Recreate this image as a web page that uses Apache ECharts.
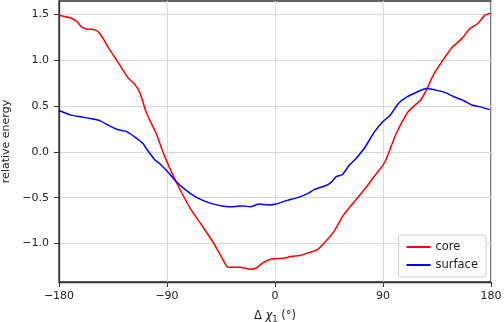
<!DOCTYPE html>
<html>
<head>
<meta charset="utf-8">
<script src="https://cdn.jsdelivr.net/npm/echarts@6/dist/echarts.min.js"></script>
<style>
  html, body { margin: 0; padding: 0; background: #fff; }
  #chart { width: 504px; height: 322px; }
</style>
</head>
<body>
<div id="chart"></div>
<script>
// core (red)
var coreX = [-180, -170, -165, -161, -157, -150, -146, -137.5, -129, -122, -117, -112.5, -107, -99, -94, -90, -83, -76, -69, -60, -51, -44, -39, -29, -20, -16, -10, -3, 7, 14, 21, 28, 35, 42, 49, 57, 65, 74, 82, 90, 93, 101, 110, 115, 121, 126, 132, 140, 147, 156, 162, 169, 175, 180];
var coreY = [1.49, 1.46, 1.42, 1.36, 1.34, 1.33, 1.29, 1.11, 0.94, 0.80, 0.74, 0.64, 0.42, 0.20, 0.02, -0.11, -0.31, -0.49, -0.65, -0.82, -1.00, -1.16, -1.26, -1.26, -1.28, -1.27, -1.21, -1.17, -1.16, -1.14, -1.13, -1.10, -1.07, -0.98, -0.87, -0.69, -0.56, -0.42, -0.28, -0.145, -0.07, 0.20, 0.42, 0.49, 0.56, 0.67, 0.84, 1.00, 1.13, 1.24, 1.34, 1.40, 1.49, 1.51];
// surface (blue)
var surfX = [-180, -170, -161, -153, -146, -137.5, -130.6, -123.6, -116.7, -110, -107, -100, -96, -90, -82, -74, -65, -54, -44, -35, -26, -21, -13, -6, 1, 10, 19, 28, 33, 42, 47, 51, 56, 62, 67, 75, 83, 90, 96, 103, 110, 118, 126, 135, 143, 149, 157, 164, 171, 179];
var surfY = [0.45, 0.40, 0.38, 0.36, 0.34, 0.28, 0.24, 0.22, 0.16, 0.09, 0.03, -0.09, -0.13, -0.21, -0.33, -0.42, -0.50, -0.56, -0.59, -0.60, -0.59, -0.60, -0.57, -0.58, -0.57, -0.53, -0.50, -0.45, -0.41, -0.37, -0.33, -0.27, -0.25, -0.145, -0.08, 0.05, 0.22, 0.33, 0.40, 0.53, 0.60, 0.65, 0.69, 0.67, 0.64, 0.60, 0.56, 0.51, 0.49, 0.46];
var xTicks = [-180, -90, 0, 90, 180];
var yTicks = [-1.0, -0.5, 0.0, 0.5, 1.0, 1.5];

function pairs(xs, ys) {
    var out = [];
    for (var i = 0; i < xs.length; i++) out.push([xs[i], ys[i]]);
    return out;
}
function fmtY(v) {
    var s = Number(v).toFixed(1);
    return s.charAt(0) === '-' ? '\u2212' + s.slice(1) : s;
}
function fmtX(v) {
    var s = String(v);
    return s.charAt(0) === '-' ? '\u2212' + s.slice(1) : s;
}

var font = 'DejaVu Sans';
var axisColor = '#333';
var myChart = echarts.init(document.getElementById('chart'));
var option = {
    animation: false,
    textStyle: { fontFamily: font },
    grid: {
        left: 59, right: 13, top: 1, bottom: 40,
        outerBoundsMode: 'none', containLabel: false,
        show: true, borderColor: axisColor, borderWidth: 1.3, backgroundColor: '#fff'
    },
    xAxis: {
        type: 'value', min: -180, max: 180, interval: 90,
        name: '\u0394 {i|\u03c7}{s|1} (\u00b0)',
        nameLocation: 'middle', nameGap: 27,
        nameTextStyle: {
            fontFamily: font, fontSize: 11.5, color: '#222',
            rich: {
                i: { fontFamily: font, fontStyle: 'italic', fontSize: 11.5, color: '#222' },
                s: { fontFamily: font, fontSize: 8.5, color: '#222', verticalAlign: 'bottom', padding: [6, 0, 0, 0] }
            }
        },
        axisLine: { show: true, onZero: false, lineStyle: { color: axisColor, width: 1.3 } },
        axisTick: { show: true, inside: false, length: 5, lineStyle: { color: axisColor } },
        axisLabel: { color: '#222', fontSize: 11, margin: 9, formatter: fmtX },
        splitLine: { show: true, lineStyle: { color: '#d9d9d9', width: 1 } }
    },
    yAxis: {
        type: 'value', min: -1.42, max: 1.645,
        name: 'relative energy', nameLocation: 'middle', nameGap: 44,
        nameTextStyle: { fontFamily: font, fontSize: 11, color: '#222' },
        axisLine: { show: true, onZero: false, lineStyle: { color: axisColor, width: 1.3 } },
        axisTick: { show: true, inside: false, length: 5, lineStyle: { color: axisColor }, customValues: yTicks },
        axisLabel: { color: '#222', fontSize: 11, margin: 10, formatter: fmtY, customValues: yTicks, showMinLabel: true, showMaxLabel: true },
        splitLine: { show: true, lineStyle: { color: '#d9d9d9', width: 1 } }
    },
    legend: {
        right: 18, bottom: 45,
        orient: 'vertical',
        itemWidth: 24, itemHeight: 2, itemGap: 6,
        icon: 'rect',
        padding: [6, 8, 6, 8],
        borderColor: '#d0d0d0', borderWidth: 1, borderRadius: 3,
        backgroundColor: 'rgba(255,255,255,0.9)',
        textStyle: { fontFamily: font, fontSize: 11.5, color: '#222' },
        data: ['core', 'surface']
    },
    series: [
        {
            name: 'core', type: 'line', data: pairs(coreX, coreY),
            showSymbol: false, smooth: 0.2,
            lineStyle: { color: '#ff0000', width: 1.5 }, itemStyle: { color: '#ff0000' }
        },
        {
            name: 'surface', type: 'line', data: pairs(surfX, surfY),
            showSymbol: false, smooth: 0.2,
            lineStyle: { color: '#0000ff', width: 1.5 }, itemStyle: { color: '#0000ff' }
        }
    ]
};
myChart.setOption(option);
</script>
</body>
</html>
